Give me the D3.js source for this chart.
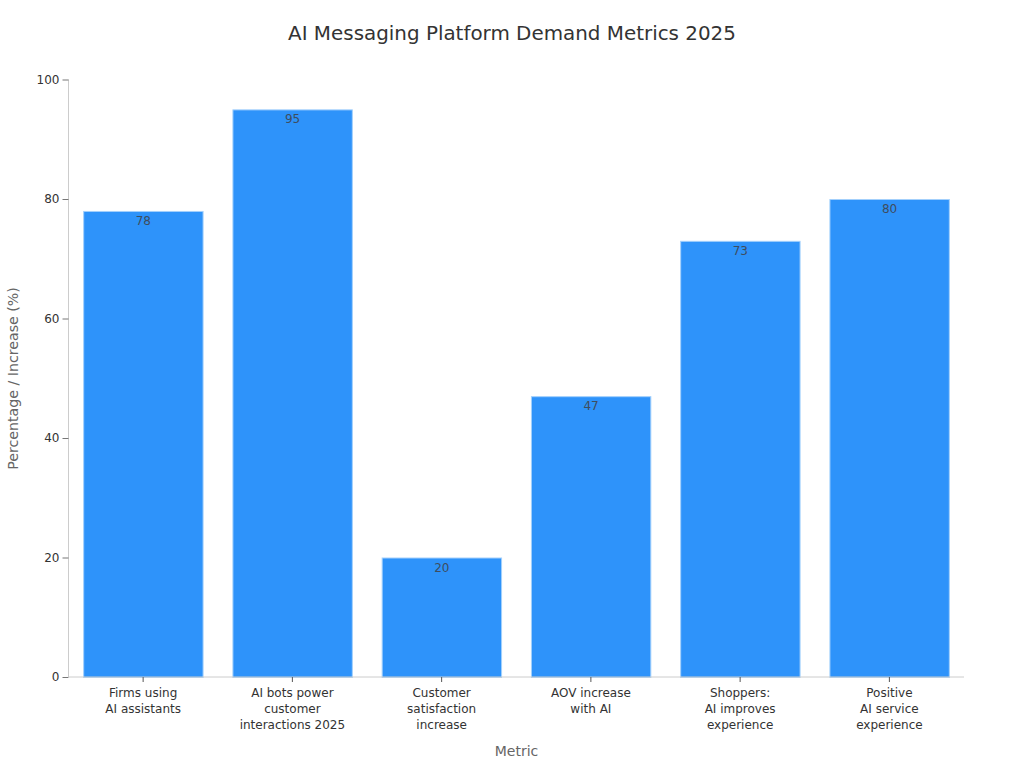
<!DOCTYPE html>
<html>
<head>
<meta charset="utf-8">
<script src="https://cdn.jsdelivr.net/npm/d3@7"></script>
<style>
    html, body { margin: 0; padding: 0; background: #fff; }
    svg { display: block; }
    text { font-family: "DejaVu Sans", sans-serif; }
</style>
</head>
<body>
<div id="chart"></div>
<script>
const chartTitle = "AI Messaging Platform Demand Metrics 2025";
const xTitle = "Metric";
const yTitle = "Percentage / Increase (%)";

// Category labels, one entry per line
const categories = [
    ["Firms using", "AI assistants"],
    ["AI bots power", "customer", "interactions 2025"],
    ["Customer", "satisfaction", "increase"],
    ["AOV increase", "with AI"],
    ["Shoppers:", "AI improves", "experience"],
    ["Positive", "AI service", "experience"]
];
const values = [78, 95, 20, 47, 73, 80];
const yTicks = [0, 20, 40, 60, 80, 100];

const margin = {top: 79.5, right: 60, bottom: 91, left: 68.5},
    width = 1024 - margin.left - margin.right,
    height = 768 - margin.top - margin.bottom;

const svg = d3.select("#chart")
    .append("svg")
    .attr("width", 1024)
    .attr("height", 768);

const g = svg.append("g")
    .attr("transform", `translate(${margin.left},${margin.top})`);

const x = d3.scaleBand()
    .domain(d3.range(categories.length))
    .range([0, width])
    .paddingInner(0.2)
    .paddingOuter(0.1);

const y = d3.scaleLinear()
    .domain([0, 100])
    .range([height, 0]);

// Bars and their labels sit just inside the axes
const barLayer = g.append("g")
    .attr("transform", "translate(0.25,0.5)");

barLayer.selectAll(".bar")
    .data(values)
    .enter()
    .append("rect")
    .attr("class", "bar")
    .attr("x", (d, i) => x(i))
    .attr("y", d => y(d))
    .attr("width", x.bandwidth())
    .attr("height", d => height - y(d))
    .attr("fill", "#2e93fa")
    .attr("stroke", "#a3d0fc")
    .attr("stroke-width", 1);

// Value labels, just inside the top of each bar
barLayer.selectAll(".value")
    .data(values)
    .enter()
    .append("text")
    .attr("class", "value")
    .attr("x", (d, i) => x(i) + x.bandwidth() / 2)
    .attr("y", d => y(d) + 13.6)
    .attr("text-anchor", "middle")
    .attr("font-size", 12)
    .attr("fill", "#3f4d5e")
    .text(d => d);

// Axes
const yAxis = g.append("g")
    .attr("class", "y-axis")
    .call(d3.axisLeft(y).tickValues(yTicks).tickSize(6).tickPadding(3));

const xAxis = g.append("g")
    .attr("class", "x-axis")
    .attr("transform", `translate(0,${height})`)
    .call(d3.axisBottom(x).tickSize(5).tickFormat(""));

[yAxis, xAxis].forEach(axis => {
    axis.select(".domain").attr("stroke", "#cccccc").attr("stroke-width", 1);
    axis.selectAll(".tick line").attr("stroke", "#555555");
    axis.selectAll(".tick text")
        .attr("font-family", "DejaVu Sans")
        .attr("font-size", 12)
        .attr("fill", "#333333");
});
// No end ticks on the domain paths
yAxis.select(".domain").attr("d", `M0,0V${height}`);
xAxis.select(".domain").attr("d", `M0,0H${width}`);
yAxis.selectAll(".tick line").attr("stroke", "#777777");

// Multi-line category labels
xAxis.selectAll(".tick").each(function (d) {
    const label = d3.select(this).append("text")
        .attr("text-anchor", "middle")
        .attr("font-size", 12)
        .attr("fill", "#333333");
    categories[d].forEach((line, i) => {
        label.append("tspan")
            .attr("x", 0)
            .attr("y", 20 + i * 16)
            .text(line);
    });
});

// Titles
svg.append("text")
    .attr("x", 512)
    .attr("y", 40)
    .attr("text-anchor", "middle")
    .attr("font-size", 19.9)
    .attr("fill", "#333333")
    .text(chartTitle);

svg.append("text")
    .attr("x", 516.5)
    .attr("y", 756)
    .attr("text-anchor", "middle")
    .attr("font-size", 14)
    .attr("fill", "#666666")
    .text(xTitle);

svg.append("text")
    .attr("transform", "translate(17.5,378.5) rotate(-90)")
    .attr("text-anchor", "middle")
    .attr("font-size", 14.2)
    .attr("fill", "#666666")
    .text(yTitle);
</script>
</body>
</html>
